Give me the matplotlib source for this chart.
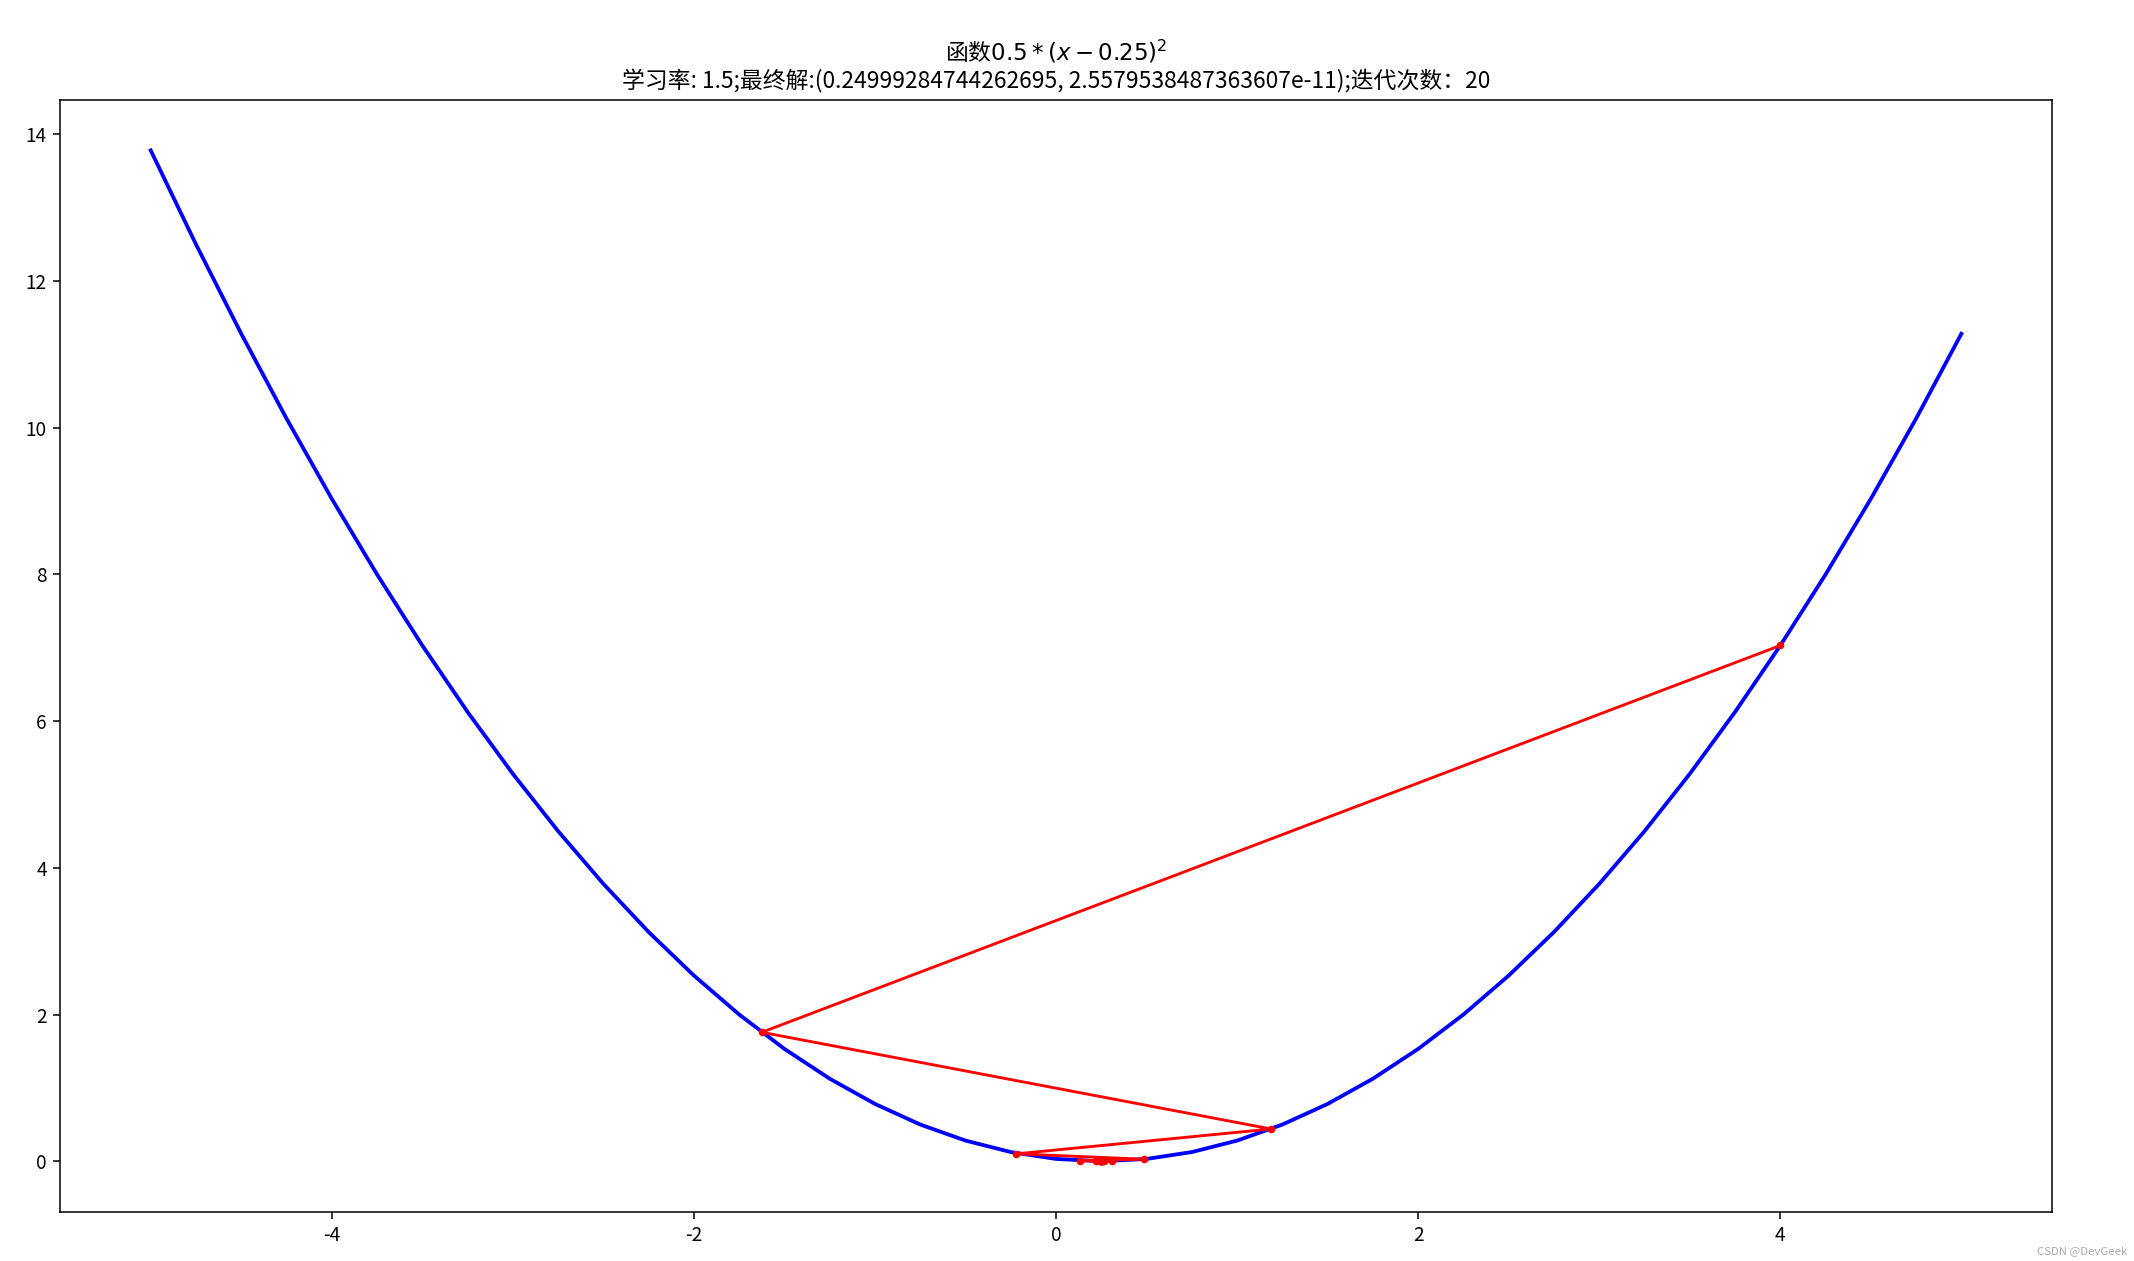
import matplotlib
matplotlib.use("Agg")
import matplotlib.pyplot as plt

plt.rcParams['font.family'] = ['Noto Sans CJK SC', 'DejaVu Sans']
plt.rcParams['axes.unicode_minus'] = False

curve_x = [-5.0, -4.75, -4.5, -4.25, -4.0, -3.75, -3.5, -3.25, -3.0, -2.75, -2.5, -2.25, -2.0,
           -1.75, -1.5, -1.25, -1.0, -0.75, -0.5, -0.25, 0.0, 0.25, 0.5, 0.75, 1.0, 1.25, 1.5,
           1.75, 2.0, 2.25, 2.5, 2.75, 3.0, 3.25, 3.5, 3.75, 4.0, 4.25, 4.5, 4.75, 5.0]
curve_y = [13.78125, 12.5, 11.28125, 10.125, 9.03125, 8.0, 7.03125, 6.125, 5.28125, 4.5,
           3.78125, 3.125, 2.53125, 2.0, 1.53125, 1.125, 0.78125, 0.5, 0.28125, 0.125, 0.03125,
           0.0, 0.03125, 0.125, 0.28125, 0.5, 0.78125, 1.125, 1.53125, 2.0, 2.53125, 3.125,
           3.78125, 4.5, 5.28125, 6.125, 7.03125, 8.0, 9.03125, 10.125, 11.28125]

iter_x = [4.0, -1.625, 1.1875, -0.21875, 0.484375, 0.1328125, 0.30859375, 0.2207031,
          0.2646484, 0.2426758, 0.2536621, 0.2481689, 0.2509155, 0.2495422, 0.2502289,
          0.2498856, 0.2500572, 0.2499714, 0.2500143, 0.2499928]
iter_y = [7.03125, 1.7578125, 0.4394531, 0.1007080, 0.0274658, 0.0068665, 0.0017166,
          0.0004292, 0.0001073, 0.0000268, 0.0000067, 0.0000017, 0.0000004, 0.0000001,
          0.0, 0.0, 0.0, 0.0, 0.0, 0.0]

title_text = "函数$0.5*(x-0.25)^2$\n学习率: 1.5;最终解:(0.24999284744262695, 2.5579538487363607e-11);迭代次数：20"

fig = plt.figure(figsize=(2134/137, 1261/137), dpi=137)
ax = fig.add_axes([44/1560, 1-886/922, (1500-44)/1560, (886-73)/922])
ax.plot(curve_x, curve_y, color='blue', linewidth=2, solid_joinstyle='round')
ax.plot(iter_x, iter_y, color='red', marker='o', markersize=3, linewidth=1.5)
ax.set_title(title_text, fontsize=12)
fig.text(0.997, 0.004, "CSDN @DevGeek", ha='right', va='bottom', fontsize=6, color='#aaaaaa')
fig.savefig("out.png", dpi=137)
